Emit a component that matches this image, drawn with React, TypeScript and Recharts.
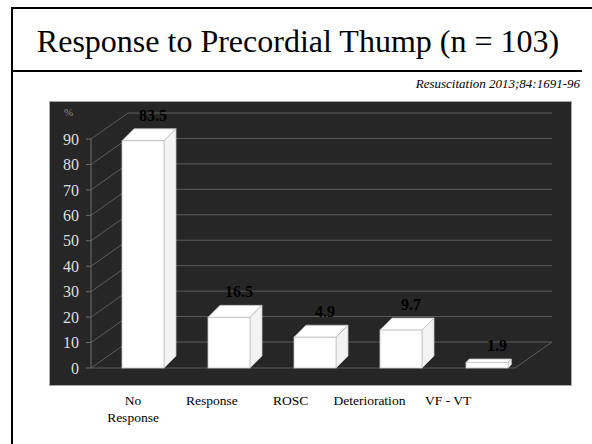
import { Bar, BarChart, CartesianGrid, LabelList, Text, XAxis, YAxis } from "recharts"

const categories = ["No Response", "Response", "ROSC", "Deterioration", "VF - VT"]
// percentages printed over the bars
const percent = [83.5, 16.5, 4.9, 9.7, 1.9]
// height of each bar's front face, read against the front % axis
const barTop = [89.3, 19.9, 12.1, 14.9, 2.2]
const yTicks = [0, 10, 20, 30, 40, 50, 60, 70, 80, 90]

const data = categories.map((name, i) => ({ name, top: barTop[i], pct: percent[i] }))

const SERIF = "Liberation Serif, Tinos, Times, DejaVu Serif, serif"
const WALL_DX = 37
const WALL_DY = 26
const GRID = "#5c5c5c"

const depthOf = (h: number) => Math.min(12, h * 0.6)

function Box3D(props: any) {
  const { x, y, width: w, height: h } = props
  const d = depthOf(h)
  const edge = { stroke: "#c4c4c4", strokeWidth: 0.8 }
  return (
    <g>
      <polygon points={`${x},${y} ${x + d},${y - d} ${x + w + d},${y - d} ${x + w},${y}`} fill="#ffffff" {...edge} />
      <polygon
        points={`${x + w},${y} ${x + w + d},${y - d} ${x + w + d},${y + h - d} ${x + w},${y + h}`}
        fill="#f3f3f3"
        {...edge}
      />
      <rect x={x} y={y} width={w} height={h} fill="#ffffff" {...edge} />
    </g>
  )
}

function PctLabel(props: any) {
  const { x, y, width, height, value } = props
  const d = depthOf(height)
  return (
    <text x={x + width / 2 + 10} y={y - d - 8} textAnchor="middle" fontFamily={SERIF} fontWeight="bold" fontSize={16} fill="#000">
      {value}
    </text>
  )
}

function CatTick(props: any) {
  const { x, y, payload } = props
  return (
    <Text x={x} y={y} width={62} textAnchor="middle" verticalAnchor="start" lineHeight={17} fontSize={13.5} fontFamily={SERIF} fill="#000">
      {payload.value}
    </Text>
  )
}

// each horizontal grid line becomes a side-wall diagonal plus a back-wall line
const wallLine = (p: any) => {
  const { x1, x2, y1, index } = p
  const bx = x1 + WALL_DX
  const by = y1 - WALL_DY
  return (
    <g key={`w-${index}`}>
      <line x1={x1} y1={y1} x2={bx} y2={by} stroke={GRID} strokeWidth={1} />
      <line x1={bx} y1={by} x2={x2 + 22} y2={by} stroke={GRID} strokeWidth={1} />
      {index === 0 && (
        <>
          <line x1={x1} y1={y1} x2={x2 - 15} y2={y1} stroke={GRID} strokeWidth={1} />
          <line x1={x2 - 15} y1={y1} x2={x2 + 22} y2={by} stroke={GRID} strokeWidth={1} />
        </>
      )}
    </g>
  )
}

export default function App() {
  return (
    <div style={{ position: "relative", width: 592, height: 444, background: "#fff", overflow: "hidden", fontFamily: SERIF }}>
      <style>{"body{margin:0}"}</style>
      <div style={{ position: "absolute", left: 11, top: 7, width: 2, height: 437, background: "#000" }} />
      <div style={{ position: "absolute", left: 11, top: 7, width: 581, height: 2, background: "#000" }} />
      <div
        style={{
          position: "absolute",
          left: 0,
          width: 592,
          top: 22,
          textAlign: "center",
          fontSize: 32,
          lineHeight: "38px",
          paddingLeft: 2,
        }}
      >
        Response to Precordial Thump (n = 103)
      </div>
      <div style={{ position: "absolute", left: 12, top: 70, width: 570, height: 2, background: "#000" }} />
      <div style={{ position: "absolute", right: 12, top: 76, fontSize: 13, fontStyle: "italic", lineHeight: "15px" }}>
        Resuscitation 2013;84:1691-96
      </div>
      <div
        style={{
          position: "absolute",
          left: 49,
          top: 101,
          width: 523,
          height: 285,
          background: "#262626",
          border: "1px solid #a8a8a8",
          boxSizing: "border-box",
        }}
      />
      <div style={{ position: "absolute", left: 64, top: 106, fontSize: 11, color: "#8a8a8a" }}>%</div>
      <div style={{ position: "absolute", left: 0, top: 0 }}>
        <BarChart width={592} height={444} data={data} margin={{ top: 139, right: 62, bottom: 26, left: 31 }}>
          <CartesianGrid xAxisId="bars" vertical={false} horizontal={wallLine} />
          <XAxis xAxisId="bars" dataKey="name" hide height={0} padding={{ left: 9, right: 0 }} />
          <XAxis
            xAxisId="labels"
            dataKey="name"
            height={50}
            axisLine={false}
            tickLine={false}
            tickSize={0}
            tickMargin={27}
            interval={0}
            padding={{ left: 2.6, right: 42.4 }}
            tick={<CatTick />}
          />
          <YAxis
            domain={[0, 90]}
            ticks={yTicks}
            width={60}
            axisLine={{ stroke: "#6e6e6e" }}
            tickLine={{ stroke: "#6e6e6e" }}
            tickSize={5}
            tickMargin={7}
            tick={{ fill: "#dedede", fontSize: 16, fontFamily: SERIF }}
          />
          <Bar xAxisId="bars" dataKey="top" barSize={42} shape={<Box3D />} isAnimationActive={false}>
            <LabelList dataKey="pct" content={<PctLabel />} />
          </Bar>
        </BarChart>
      </div>
    </div>
  )
}
